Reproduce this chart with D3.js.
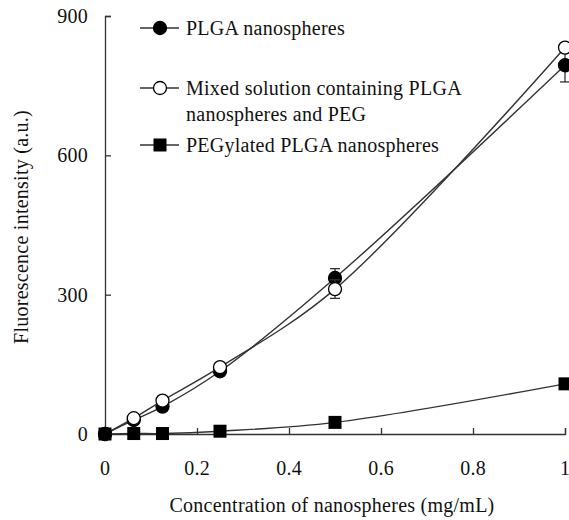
<!DOCTYPE html>
<html>
<head>
<meta charset="utf-8">
<script src="https://cdn.jsdelivr.net/npm/d3@7"></script>
<style>
  body { margin: 0; background: #fff; }
</style>
</head>
<body>
<div id="wrapper"></div>
<script>
// data
const concentrations = [0, 0.0625, 0.125, 0.25, 0.5, 1];
const plgaValues = [0, 30, 59, 135, 336, 794];
const plgaErrors = [0, 0, 0, 0, 20, 36];
const mixedValues = [0, 34, 72, 144, 312, 832];
const mixedErrors = [0, 0, 0, 0, 20, 0];
const pegValues = [0, 1, 1, 6, 25, 108];
const pegErrors = [0, 0, 0, 0, 0, 0];

const xTicks = [0, 0.2, 0.4, 0.6, 0.8, 1];
const yTicks = [0, 300, 600, 900];

const seriesNames = [
  ["PLGA nanospheres"],
  ["Mixed solution containing PLGA", "nanospheres and PEG"],
  ["PEGylated PLGA nanospheres"]
];

function drawChart() {
  const width = 569;
  const height = 520;
  const margin = { left: 105, right: 4, top: 16, bottom: 86 };

  const svg = d3.select("#wrapper")
    .append("svg")
    .attr("width", width)
    .attr("height", height);

  const x = d3.scaleLinear().domain([0, 1]).range([margin.left, width - margin.right]);
  const y = d3.scaleLinear().domain([0, 900]).range([height - margin.bottom, margin.top]);

  // axes, ticks point inwards
  const xAxis = svg.append("g")
    .attr("transform", `translate(0,${y(0)})`)
    .call(d3.axisTop(x).tickValues(xTicks).tickSize(6).tickFormat(""));
  const yAxis = svg.append("g")
    .attr("transform", `translate(${x(0)},0)`)
    .call(d3.axisRight(y).tickValues(yTicks).tickSize(6).tickFormat(""));
  [xAxis, yAxis].forEach(a => {
    a.select(".domain").attr("stroke", "#333").attr("stroke-width", 1.3);
    a.selectAll(".tick line").attr("stroke", "#333").attr("stroke-width", 1.3);
  });

  const textStyle = sel => sel
    .style("font-family", '"Liberation Serif"')
    .style("font-size", "20px")
    .style("letter-spacing", "0.25px")
    .attr("fill", "#111");

  svg.selectAll(".xlabel")
    .data(xTicks)
    .enter()
    .append("text")
    .attr("class", "xlabel")
    .attr("x", d => x(d))
    .attr("y", y(0) + 41)
    .attr("text-anchor", "middle")
    .call(textStyle)
    .text(d => d3.format("~g")(d));

  svg.selectAll(".ylabel")
    .data(yTicks)
    .enter()
    .append("text")
    .attr("class", "ylabel")
    .attr("x", x(0) - 17)
    .attr("y", d => y(d) + 7)
    .attr("text-anchor", "end")
    .call(textStyle)
    .text(d => d);

  svg.append("text")
    .attr("x", 332)
    .attr("y", 512)
    .attr("text-anchor", "middle")
    .call(textStyle)
    .text("Concentration of nanospheres (mg/mL)");

  svg.append("text")
    .attr("transform", `translate(28,${227}) rotate(-90)`)
    .attr("text-anchor", "middle")
    .call(textStyle)
    .text("Fluorescence intensity (a.u.)");

  const series = [
    { values: plgaValues, errors: plgaErrors, shape: "dot" },
    { values: mixedValues, errors: mixedErrors, shape: "ring" },
    { values: pegValues, errors: pegErrors, shape: "square" }
  ];

  const line = d3.line()
    .x(d => x(d[0]))
    .y(d => y(d[1]))
    .curve(d3.curveCatmullRom.alpha(0.5));

  function marker(g, shape, cx, cy) {
    if (shape === "square") {
      g.append("rect")
        .attr("x", cx - 6.5).attr("y", cy - 6.5)
        .attr("width", 13).attr("height", 13)
        .attr("fill", "#000");
    } else {
      g.append("circle")
        .attr("cx", cx).attr("cy", cy).attr("r", 6.5)
        .attr("fill", shape === "dot" ? "#000" : "#fff")
        .attr("stroke", "#000")
        .attr("stroke-width", 1.3);
    }
  }

  series.forEach(s => {
    const g = svg.append("g");
    const pts = concentrations.map((c, i) => [c, s.values[i], s.errors[i]]);

    g.append("path")
      .attr("d", line(pts))
      .attr("fill", "none")
      .attr("stroke", "#333")
      .attr("stroke-width", 1.4);

    pts.filter(p => p[2] > 0).forEach(p => {
      const cx = x(p[0]);
      const top = y(p[1] + p[2]);
      const bot = y(p[1] - p[2]);
      g.append("line").attr("x1", cx).attr("x2", cx).attr("y1", top).attr("y2", bot)
        .attr("stroke", "#333").attr("stroke-width", 1.3);
      [top, bot].forEach(yy => g.append("line")
        .attr("x1", cx - 5).attr("x2", cx + 5).attr("y1", yy).attr("y2", yy)
        .attr("stroke", "#333").attr("stroke-width", 1.3));
    });

    pts.forEach(p => marker(g, s.shape, x(p[0]), y(p[1])));
  });

  // legend
  const legendRows = [28, 88, 145];
  const legend = svg.append("g");
  series.forEach((s, i) => {
    const ly = legendRows[i];
    legend.append("line")
      .attr("x1", 140).attr("x2", 179).attr("y1", ly).attr("y2", ly)
      .attr("stroke", "#333").attr("stroke-width", 1.4);
    marker(legend, s.shape, 160, ly);
    seriesNames[i].forEach((t, k) => {
      legend.append("text")
        .attr("x", 186)
        .attr("y", ly + 7 + k * 26)
        .call(textStyle)
        .text(t);
    });
  });
}

drawChart();
</script>
</body>
</html>
